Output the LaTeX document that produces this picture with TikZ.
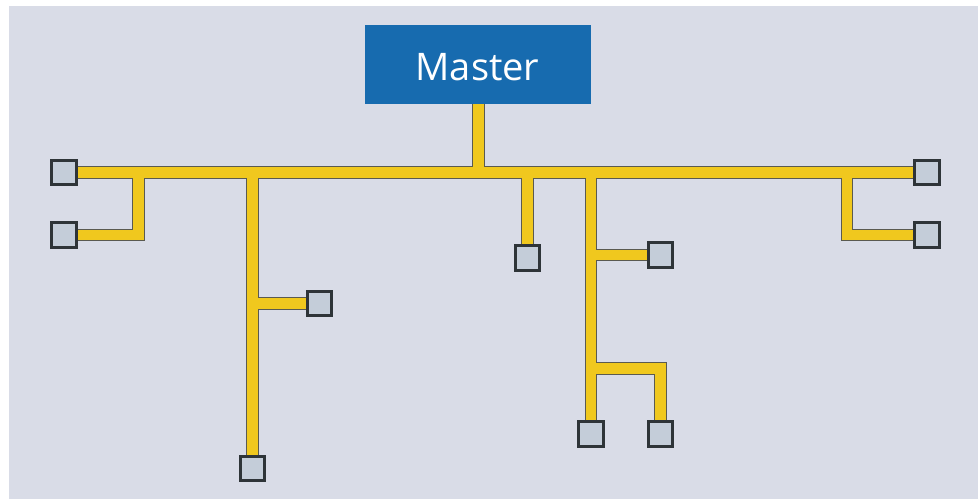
\documentclass[tikz,border=0pt]{standalone}
\usepackage{fontspec}
\setmainfont{Open Sans}
\definecolor{bg}{HTML}{D9DCE7}
\definecolor{masterblue}{HTML}{176BAF}
\definecolor{cable}{HTML}{F0C81E}
\definecolor{cableedge}{HTML}{5A5A50}
\definecolor{devfill}{HTML}{C4CDD9}
\definecolor{devedge}{HTML}{2E3438}
\begin{document}
\begin{tikzpicture}[x=1pt,y=-1pt,
  devbox/.style={draw=devedge,line width=2.6pt,fill=devfill,minimum size=24.5pt,inner sep=0pt,outer sep=0pt},
  cabout/.style={draw=cableedge,line width=12.6pt,line join=miter,line cap=butt},
  cabin/.style={draw=cable,line width=10.4pt,line join=miter,line cap=butt}]
\useasboundingbox (0,0) rectangle (978,499);
\fill[white] (0,0) rectangle (978,499);
\fill[bg] (9,6) rectangle (978,499);
% coordinates
\coordinate (mb) at (478.5,104);
\coordinate (bj) at (478.5,172.5);
\coordinate (j1) at (138.5,172.5);
\coordinate (j2) at (252.5,172.5);
\coordinate (j3) at (527.5,172.5);
\coordinate (j4) at (591,172.5);
\coordinate (j5) at (847,172.5);
\coordinate (k2) at (252.5,303.5);
\coordinate (k4) at (591,255);
\coordinate (k4b) at (591,368.5);
% devices
\node[devbox] (dL1) at (64,172.5) {};
\node[devbox] (dL2) at (64,235) {};
\node[devbox] (dA) at (319.5,303.5) {};
\node[devbox] (dB) at (252.5,468.5) {};
\node[devbox] (dC) at (527.5,258) {};
\node[devbox] (dD) at (660.5,255) {};
\node[devbox] (dE) at (591,434) {};
\node[devbox] (dF) at (660.5,434) {};
\node[devbox] (dR1) at (927,172.5) {};
\node[devbox] (dR2) at (927,235) {};
% cables
\foreach \s in {cabout,cabin}{
  \draw[\s] (mb) -- (bj);
  \draw[\s] (dL1.center) -- (dR1.center);
  \draw[\s] (dL2.center) -- (138.5,235) -- (j1);
  \draw[\s] (j2) -- (dB.center);
  \draw[\s] (k2) -- (dA.center);
  \draw[\s] (j3) -- (dC.center);
  \draw[\s] (j4) -- (dE.center);
  \draw[\s] (k4) -- (dD.center);
  \draw[\s] (k4b) -- (660.5,368.5) -- (dF.center);
  \draw[\s] (dR2.center) -- (847,235) -- (j5);
}
% redraw devices on top
\foreach \n in {dL1,dL2,dA,dB,dC,dD,dE,dF,dR1,dR2}{
  \node[devbox] at (\n.center) {};
}
% master
\node[fill=masterblue,minimum width=226pt,minimum height=79pt,inner sep=0pt,outer sep=0pt] (master) at (478,64.5) {};
\node[text=white,font=\fontsize{38}{40}\selectfont,inner sep=0pt] (mlabel) at (477.5,67) {Master};
\end{tikzpicture}
\end{document}
